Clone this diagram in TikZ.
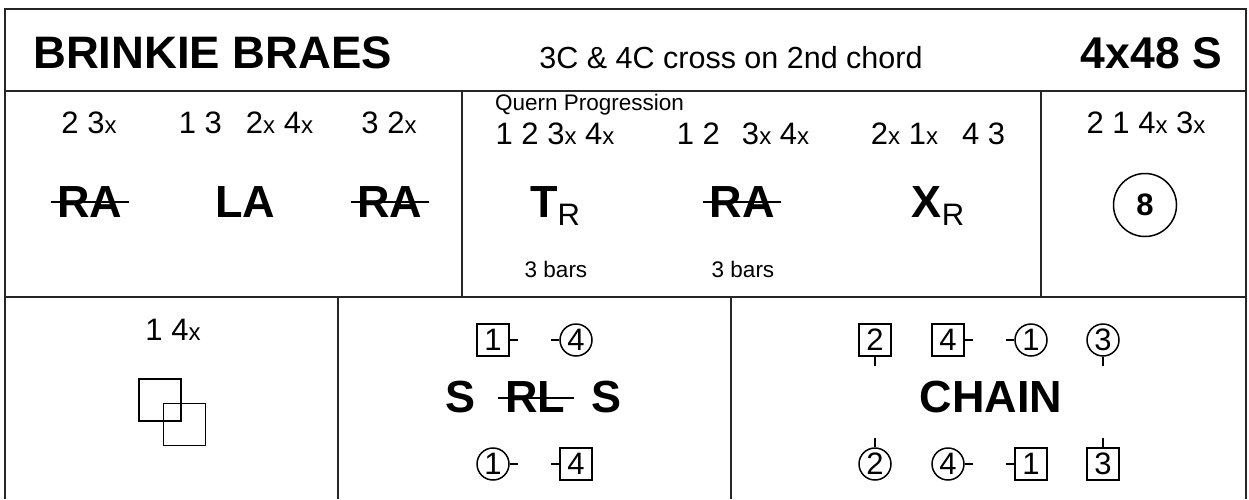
\documentclass[tikz,border=0pt]{standalone}
\usepackage{fontspec}
\setmainfont{Liberation Sans}
\usetikzlibrary{calc}
\newcommand\fsz[1]{\fontsize{#1pt}{#1pt}\selectfont}
\newcommand\xs{{\fsz{24}x}}
\begin{document}
\begin{tikzpicture}[x=1pt,y=-1pt,
  frame/.style={line width=2pt, draw=black!85},
  txt/.style={inner sep=0pt, anchor=base},
  big/.style={txt, font=\fsz{45}\bfseries},
  num/.style={txt, font=\fsz{31}},
  small/.style={txt, font=\fsz{22.5}},
  sq/.style={draw, line width=1.5pt, rectangle, minimum size=32pt, inner sep=0pt, font=\fsz{31}},
  ci/.style={draw, line width=1.5pt, circle, minimum size=32pt, inner sep=0pt, font=\fsz{31}},
  stub/.style={line width=1.5pt},
  strike/.style={line width=2pt},
  fig/.style={draw, line width=1.8pt, minimum size=42pt, inner sep=0pt}]
\useasboundingbox (0,0) rectangle (1249,499);
% frame
\draw[frame] (5,499) -- (5,9) -- (1246,9) -- (1246,499);
\draw[frame] (5,91) -- (1246,91);
\draw[frame] (5,297) -- (1246,297);
\draw[frame] (462,91) -- (462,297);
\draw[frame] (1041,91) -- (1041,297);
\draw[frame] (338,297) -- (338,499);
\draw[frame] (731,297) -- (731,499);
% header
\node[txt, anchor=base west, font=\fsz{45.5}\bfseries] (title) at (33,68) {BRINKIE BRAES};
\node[txt, font=\fsz{30.5}] (sub) at (731,68) {3C \& 4C cross on 2nd chord};
\node[txt, anchor=base east, font=\fsz{44.5}\bfseries] (form) at (1222,68) {4x48 S};
% row 2 left
\node[num] (l1) at (89,133) {2 3\xs};
\node[num] (l2) at (246,133) {1 3\hspace{24pt}2\xs\ 4\xs};
\node[num] (l3) at (389,133) {3 2\xs};
\node[big] (ra1) at (90,217) {RA};
\draw[strike] ($(ra1.base west)+(-6,-15)$) -- ($(ra1.base east)+(6,-15)$);
\node[big] (la) at (245,217) {LA};
\node[big] (ra2) at (390,217) {RA};
\draw[strike] ($(ra2.base west)+(-6,-15)$) -- ($(ra2.base east)+(6,-15)$);
% row 2 middle
\node[small, anchor=base west] (quern) at (495,110) {Quern Progression};
\node[num] (m1) at (555,144) {1 2 3\xs\ 4\xs};
\node[num] (m2) at (743,144) {1 2\hspace{22pt}3\xs\ 4\xs};
\node[num] (m3) at (938,144) {2\xs\ 1\xs\hspace{24pt}4 3};
\node[txt] (tr) at (555,217) {{\fsz{45}\bfseries T}\raisebox{-8pt}{\fsz{31}R}};
\node[big] (ra3) at (742,217) {RA};
\draw[strike] ($(ra3.base west)+(-6,-15)$) -- ($(ra3.base east)+(6,-15)$);
\node[txt] (xr) at (938,217) {{\fsz{45}\bfseries X}\raisebox{-8pt}{\fsz{31}R}};
\node[small] (bars1) at (556,277) {3 bars};
\node[small] (bars2) at (743,277) {3 bars};
% row 2 right
\node[num] (r1) at (1146,133) {2 1 4\xs\ 3\xs};
\node[draw, circle, minimum size=63pt, inner sep=0pt, line width=1.5pt, font=\fsz{31}\bfseries] (eight) at (1145,205) {8};
% row 3 left
\node[num] (b1) at (173,340) {1 4\xs};
\node[fig] (sqa) at (160,400) {};
\node[fig] (sqb) at (184.5,424.5) {};
% row 3 middle
\node[sq] (p1) at (493,340) {1};
\draw[stub] (p1.east) -- ++(8,0);
\node[ci] (p4) at (576,340) {4};
\draw[stub] (p4.west) -- ++(-8,0);
\node[big] (s1) at (461,412) {S};
\node[big] (rl) at (535,412) {RL};
\draw[strike] ($(rl.base west)+(-7,-14)$) -- ($(rl.base east)+(9,-14)$);
\node[big] (s2) at (606,412) {S};
\node[ci] (q1) at (493,464) {1};
\draw[stub] (q1.east) -- ++(8,0);
\node[sq] (q4) at (576,464) {4};
\draw[stub] (q4.west) -- ++(-8,0);
% row 3 right
\node[sq] (c2) at (875,340) {2};
\draw[stub] (c2.south) -- ++(0,9);
\node[sq] (c4) at (948,340) {4};
\draw[stub] (c4.east) -- ++(8,0);
\node[ci] (c1) at (1031,340) {1};
\draw[stub] (c1.west) -- ++(-8,0);
\node[ci] (c3) at (1103,340) {3};
\draw[stub] (c3.south) -- ++(0,9);
\node[big] (chain) at (991,412) {CHAIN};
\node[ci] (d2) at (875,464) {2};
\draw[stub] (d2.north) -- ++(0,-9);
\node[ci] (d4) at (948,464) {4};
\draw[stub] (d4.east) -- ++(8,0);
\node[sq] (d1) at (1031,464) {1};
\draw[stub] (d1.west) -- ++(-8,0);
\node[sq] (d3) at (1103,464) {3};
\draw[stub] (d3.north) -- ++(0,-9);
\end{tikzpicture}
\end{document}
